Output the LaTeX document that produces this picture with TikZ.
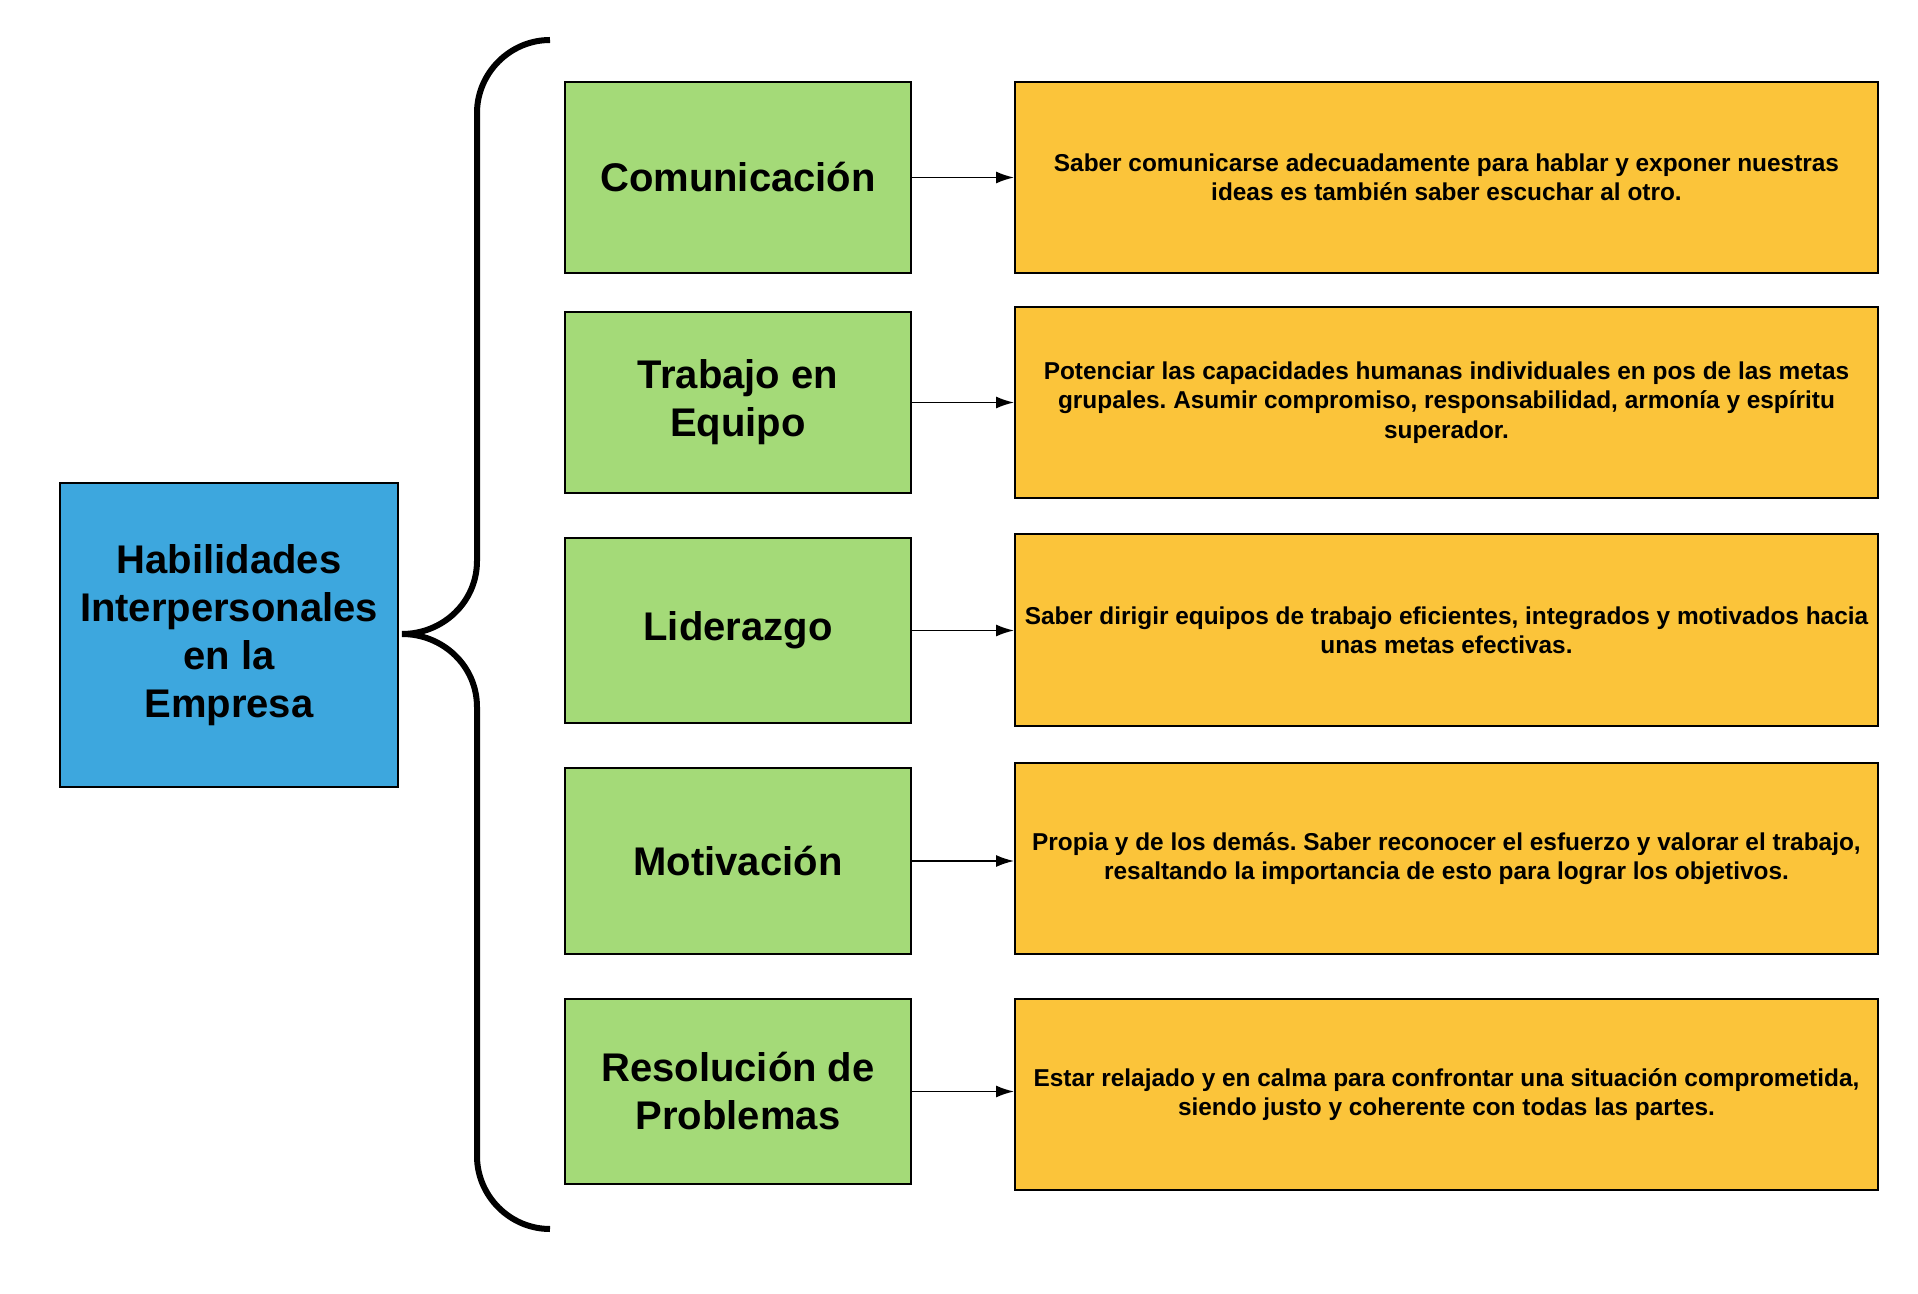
\documentclass[tikz,border=0pt]{standalone}
\usepackage{fontspec}
\setmainfont{Liberation Sans}
\usetikzlibrary{arrows.meta}
\frenchspacing

\definecolor{skillblue}{RGB}{61,167,222}
\definecolor{skillgreen}{RGB}{164,218,120}
\definecolor{skillorange}{RGB}{251,196,58}

\tikzset{
  mainbox/.style={draw, line width=1pt, fill=skillblue, minimum width=169pt, minimum height=152pt,
    align=center, font=\bfseries\fontsize{20}{24}\selectfont, inner sep=0pt},
  skillbox/.style={draw, line width=1pt, fill=skillgreen, minimum width=173pt,
    align=center, font=\bfseries\fontsize{20}{24}\selectfont, inner sep=0pt},
  infobox/.style={draw, line width=1pt, fill=skillorange, minimum width=431.5pt, minimum height=95.5pt,
    align=center, font=\bfseries\fontsize{12.2}{14.7}\selectfont, inner sep=0pt},
  link/.style={-{Latex[length=9pt,width=6pt]}, line width=0.8pt}
}

\begin{document}
\begin{tikzpicture}[x=0.5pt, y=-0.5pt]
        \useasboundingbox (0,0) rectangle (1918,1294);

        % Define the main box
        \node[mainbox] (H) at (229,635) {Habilidades\\Interpersonales\\en la\\Empresa};

        % Define the skills
        \node[skillbox, minimum height=95.5pt] (S1) at (738,177.5) {Comunicación};
        \node[skillbox, minimum height=90.5pt] (S2) at (738,402.5) {Trabajo en\\Equipo};
        \node[skillbox, minimum height=92.5pt] (S3) at (738,630.5) {Liderazgo};
        \node[skillbox, minimum height=93pt] (S4) at (738,861) {Motivación};
        \node[skillbox, minimum height=92.5pt] (S5) at (738,1091.5) {Resolución de\\Problemas};

        % Define the descriptions
        \node[infobox] (D1) at (1446.5,177.5) {Saber comunicarse adecuadamente para hablar y exponer nuestras\\ideas es también saber escuchar al otro.};
        \node[infobox] (D2) at (1446.5,402.5) {Potenciar las capacidades humanas individuales en pos de las metas\\grupales. Asumir compromiso, responsabilidad, armonía y espíritu\\superador.};
        \node[infobox] (D3) at (1446.5,630) {Saber dirigir equipos de trabajo eficientes, integrados y motivados hacia\\unas metas efectivas.};
        \node[infobox] (D4) at (1446.5,858.5) {Propia y de los demás. Saber reconocer el esfuerzo y valorar el trabajo,\\resaltando la importancia de esto para lograr los objetivos.};
        \node[infobox] (D5) at (1446.5,1094.5) {Estar relajado y en calma para confrontar una situación comprometida,\\siendo justo y coherente con todas las partes.};

        % Draw arrows
        \draw[link] (S1.east) -- (S1.east -| D1.west);
        \draw[link] (S2.east) -- (S2.east -| D2.west);
        \draw[link] (S3.east) -- (S3.east -| D3.west);
        \draw[link] (S4.east) -- (S4.east -| D4.west);
        \draw[link] (S5.east) -- (S5.east -| D5.west);

        % Draw the brace
        \coordinate (top) at (550,40);
        \coordinate (tip) at (402,634);
        \coordinate (bottom) at (550,1229);
        \draw[line width=3pt] (top) .. controls (510,40) and (477,73) .. (477,113)
            -- (477,561) .. controls (477,602) and (443,634) .. (tip)
            .. controls (443,634) and (477,666) .. (477,707)
            -- (477,1156) .. controls (477,1196) and (510,1229) .. (bottom);
    \end{tikzpicture}
\end{document}
